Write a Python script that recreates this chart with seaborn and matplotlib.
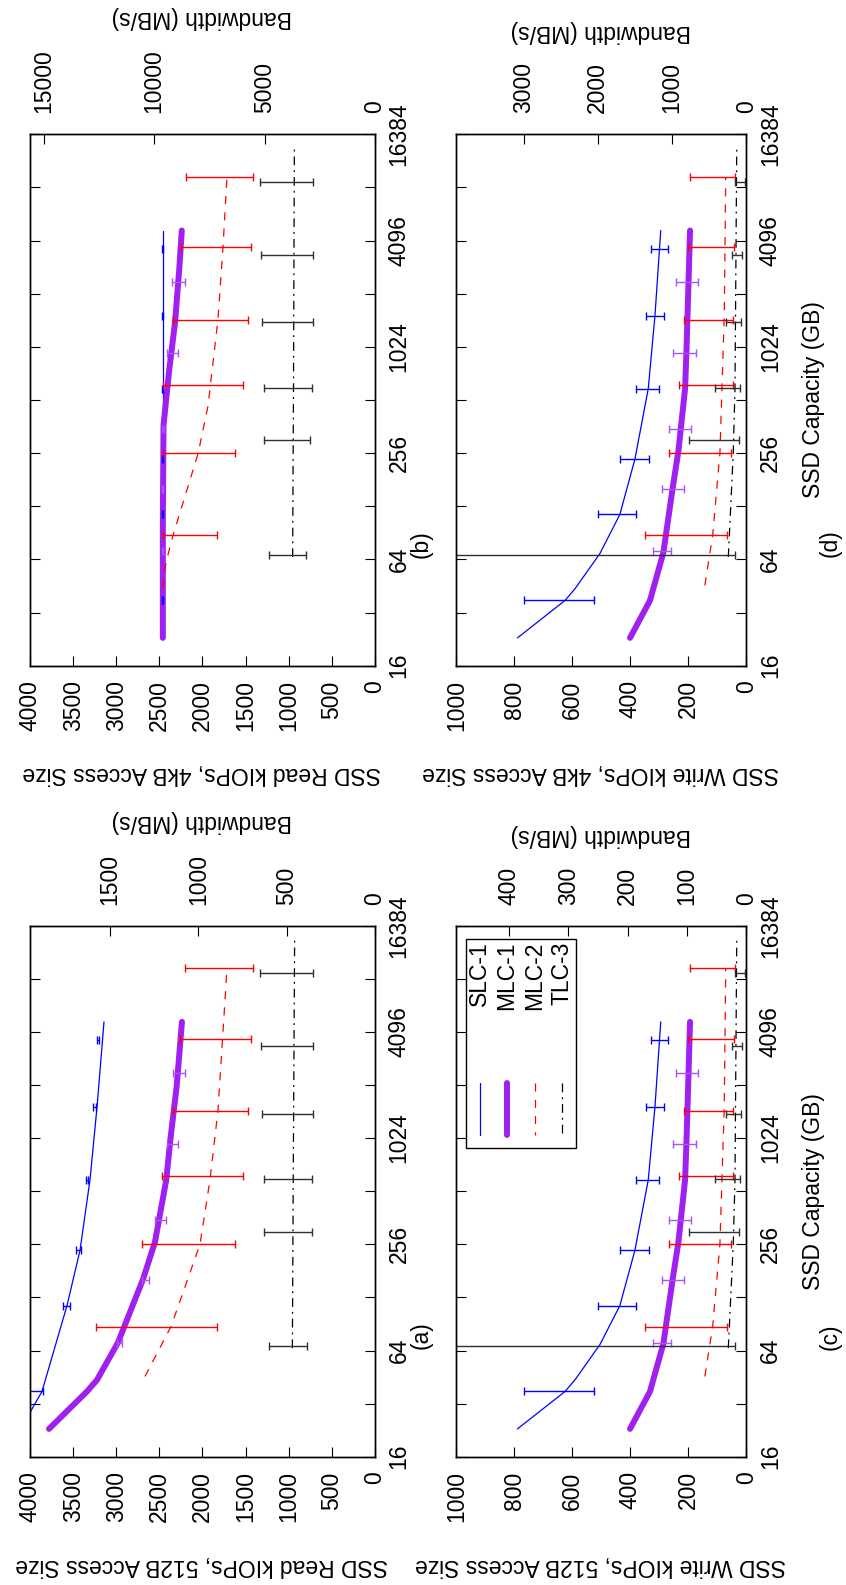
import numpy as np
import pandas as pd
import matplotlib
matplotlib.use("Agg")
import matplotlib.pyplot as plt
import seaborn as sns
from matplotlib.lines import Line2D
from matplotlib.patches import Rectangle
from matplotlib.ticker import NullLocator

# ---------------- data ----------------
SERIES = ["SLC-1", "MLC-1", "MLC-2", "TLC-3"]
CAP_TICKS = [16, 32, 64, 128, 256, 512, 1024, 2048, 4096, 8192, 16384]
CAP_LABELS = ["16", "", "64", "", "256", "", "1024", "", "4096", "", "16384"]

READ_KTICKS = [0, 500, 1000, 1500, 2000, 2500, 3000, 3500, 4000]
WRITE_KTICKS = [0, 200, 400, 600, 800, 1000]
BW_TICKS_A = [0, 500, 1000, 1500]
BW_TICKS_B = [0, 5000, 10000, 15000]
BW_TICKS_C = [0, 100, 200, 300, 400]
BW_TICKS_D = [0, 1000, 2000, 3000]

# error-bar capacities (GB), shared by all panels
SLC1_BAR_CAP = [37.5, 115, 237, 591, 1536, 3690]
MLC1_BAR_CAP = [71, 160, 350, 946, 2380]
MLC2_BAR_CAP = [87.5, 256, 623, 1450, 3750, 9380]
TLC3_BAR_CAP = [68, 302, 600, 1410, 3390, 8830]

# (a) read kIOPs, 512B
A_SLC1_CAP = [23, 28.5, 37.5, 115, 237, 595, 1536, 4670]
A_SLC1_K = [4150, 4000, 3861, 3571, 3420, 3304, 3223, 3142]
A_MLC1_CAP = [23, 37.5, 43.6, 71, 162, 264, 595, 1010, 2000, 4670]
A_MLC1_K = [3780, 3339, 3223, 2980, 2690, 2551, 2420, 2372, 2300, 2238]
A_MLC2_CAP = [45.6, 87.5, 256, 595, 1475, 9380]
A_MLC2_K = [2667, 2365, 2029, 1913, 1820, 1716]
A_TLC3_CAP = [66, 600, 13600]
A_TLC3_K = [958, 948, 932]
A_SLC1_LO = [3849, 3536, 3409, 3325, 3238, 3204]
A_SLC1_HI = [4050, 3617, 3467, 3350, 3266, 3227]
A_MLC1_LO = [2933, 2620, 2423, 2284, 2203]
A_MLC1_HI = [2991, 2701, 2551, 2412, 2342]
A_MLC2_LO = [1832, 1623, 1530, 1472, 1438, 1414]
A_MLC2_HI = [3235, 2701, 2470, 2342, 2261, 2203]
A_TLC3_LO = [788, 730, 730, 719, 719, 719]
A_TLC3_HI = [1229, 1287, 1287, 1310, 1322, 1333]

# (b) read kIOPs, 4kB
B_SLC1_CAP = [23, 256, 4670]
B_SLC1_K = [2460, 2460, 2460]
B_MLC1_CAP = [23, 100, 368, 758, 1400, 2800, 4670]
B_MLC1_K = [2460, 2460, 2452, 2386, 2319, 2270, 2240]
B_MLC2_CAP = [44.4, 61.7, 87.5, 256, 474, 1475, 3790, 9380]
B_MLC2_K = [2460, 2423, 2342, 2050, 1936, 1820, 1762, 1716]
B_TLC3_CAP = [66, 600, 13600]
B_TLC3_K = [955, 945, 935]
B_SLC1_LO = [2455, 2455, 2455, 2455, 2455, 2455]
B_SLC1_HI = [2465, 2465, 2465, 2465, 2465, 2465]
B_MLC1_LO = [2455, 2455, 2450, 2281, 2203]
B_MLC1_HI = [2465, 2465, 2470, 2416, 2348]
B_MLC2_LO = [1832, 1623, 1530, 1472, 1438, 1414]
B_MLC2_HI = [2462, 2462, 2462, 2342, 2249, 2195]
B_TLC3_LO = [800, 757, 730, 719, 719, 719]
B_TLC3_HI = [1229, 1287, 1287, 1310, 1322, 1333]

# (c) / (d) write kIOPs (same values for 512B and 4kB)
W_SLC1_CAP = [23, 37.5, 43.6, 69, 115, 237, 595, 1536, 4670]
W_SLC1_K = [789, 625, 591, 505, 436, 384, 338, 315, 295]
W_MLC1_CAP = [23, 37.5, 70, 162, 264, 595, 1010, 4670]
W_MLC1_K = [401, 332, 286, 254, 234, 211, 206, 194]
W_MLC2_CAP = [45.6, 87.5, 256, 1536, 9380]
W_MLC2_K = [143, 116, 91, 76, 71]
W_TLC3_CAP = [66, 256, 595, 13600]
W_TLC3_K = [62, 45, 39, 33]
W_SLC1_LO = [525, 382, 336, 301, 283, 269]
W_SLC1_HI = [766, 513, 436, 382, 347, 329]
W_MLC1_LO = [258, 215, 192, 174, 166]
W_MLC1_HI = [323, 289, 267, 252, 241]
W_MLC2_LO = [68, 54, 47, 45, 43, 39]
W_MLC2_HI = [349, 267, 232, 214, 200, 194]
W_TLC3_LO = [39, 24, 21, 18, 15, 4]
W_TLC3_HI = [1150, 197, 107, 69, 48, 38]

# ---------------- style ----------------
FS = 16.5
sns.set_theme(style="white")
plt.rcParams["font.family"] = ["Liberation Sans", "DejaVu Sans"]
plt.rcParams.update({
    "font.size": FS,
    "xtick.labelsize": FS,
    "ytick.labelsize": FS,
    "axes.labelsize": FS,
    "axes.linewidth": 1.0,
    "axes.edgecolor": "black",
    "xtick.color": "black",
    "ytick.color": "black",
    "text.color": "black",
})

LINE_STYLE = {
    "SLC-1": dict(color="#0000ff", linewidth=0.9, linestyle="-"),
    "MLC-1": dict(color="#a020f0", linewidth=4.3, linestyle="-"),
    "MLC-2": dict(color="#ff0000", linewidth=0.9, linestyle=(0, (6.5, 6.5))),
    "TLC-3": dict(color="#000000", linewidth=0.9, linestyle=(0, (7, 4, 1.5, 4))),
}
BAR_COLOR = {"SLC-1": "#0000ff", "MLC-1": "#a855f7", "MLC-2": "#ff0000", "TLC-3": "#303030"}

W, H = 846, 1585
fig = plt.figure(figsize=(W / 100, H / 100), dpi=100)


def px_axes(l, t, r, b):
    return fig.add_axes([l / W, 1 - b / H, (r - l) / W, (b - t) / H])


def ftext(x, y, s, rot, **kw):
    kw.setdefault("ha", "center")
    kw.setdefault("va", "center")
    fig.text(x / W, 1 - y / H, s, rotation=rot, fontsize=FS, **kw)


def draw_panel(rect, lines, bars, kmax, kticks, block_bytes, bw_ticks):
    ax = px_axes(*rect)
    ax.set_yscale("log", base=2)
    for name in SERIES:
        cap, k = lines[name]
        df = pd.DataFrame({"kiops": k, "cap": cap})
        sns.lineplot(data=df, x="kiops", y="cap", orient="y", ax=ax,
                     legend=False, **LINE_STYLE[name])
    bar_caps = {"SLC-1": SLC1_BAR_CAP, "MLC-1": MLC1_BAR_CAP,
                "MLC-2": MLC2_BAR_CAP, "TLC-3": TLC3_BAR_CAP}
    for name in SERIES:
        lo, hi = np.array(bars[name][0], float), np.array(bars[name][1], float)
        mid = (lo + hi) / 2
        ax.errorbar(mid, bar_caps[name], xerr=[mid - lo, hi - mid], fmt="none",
                    ecolor=BAR_COLOR[name], elinewidth=1.0, capsize=2.9,
                    capthick=1.0, zorder=4)
    ax.set_xlim(kmax, 0)
    ax.set_ylim(16, 16384)
    ax.set_xlabel("")
    ax.set_ylabel("")
    ax.set_xticks(kticks)
    ax.set_xticklabels([str(t) for t in kticks])
    ax.xaxis.set_minor_locator(NullLocator())
    ax.set_yticks(CAP_TICKS)
    ax.set_yticklabels(CAP_LABELS)
    ax.yaxis.set_minor_locator(NullLocator())

    ax2 = ax.twiny()
    bw_max = kmax * 1000 * block_bytes / 2 ** 20
    ax2.set_xlim(bw_max, 0)
    ax2.set_xticks(bw_ticks)
    ax2.set_xticklabels([str(t) for t in bw_ticks])
    ax2.xaxis.set_minor_locator(NullLocator())
    ax2.tick_params(axis="x", direction="in", length=7.2, width=0.8, top=True,
                    bottom=False, labeltop=True, labelbottom=False,
                    labelrotation=90, pad=15, labelsize=FS)

    ax.tick_params(axis="x", direction="in", length=7.2, width=0.8, bottom=True,
                   top=False, labelbottom=True, labeltop=False,
                   labelrotation=90, pad=10.5, labelsize=FS)
    ax.tick_params(axis="y", direction="in", length=7.2, width=0.8, left=True,
                   right=True, labelleft=False, labelright=True, pad=9,
                   labelsize=FS)
    for tick in ax.yaxis.get_major_ticks():
        tick.label2.set_rotation(90)
        tick.label2.set_va("center")
        tick.label2.set_ha("left")
    for sp in ax.spines.values():
        sp.set_color("black")
        sp.set_linewidth(1.0)
    return ax


RECT_A = (30, 925.7, 375, 1456.7)
RECT_B = (30, 134.3, 375, 665.7)
RECT_C = (456.3, 925.7, 746.3, 1456.7)
RECT_D = (456.3, 134.3, 746.3, 665.7)

lines_a = {"SLC-1": (A_SLC1_CAP, A_SLC1_K), "MLC-1": (A_MLC1_CAP, A_MLC1_K),
           "MLC-2": (A_MLC2_CAP, A_MLC2_K), "TLC-3": (A_TLC3_CAP, A_TLC3_K)}
bars_a = {"SLC-1": (A_SLC1_LO, A_SLC1_HI), "MLC-1": (A_MLC1_LO, A_MLC1_HI),
          "MLC-2": (A_MLC2_LO, A_MLC2_HI), "TLC-3": (A_TLC3_LO, A_TLC3_HI)}
lines_b = {"SLC-1": (B_SLC1_CAP, B_SLC1_K), "MLC-1": (B_MLC1_CAP, B_MLC1_K),
           "MLC-2": (B_MLC2_CAP, B_MLC2_K), "TLC-3": (B_TLC3_CAP, B_TLC3_K)}
bars_b = {"SLC-1": (B_SLC1_LO, B_SLC1_HI), "MLC-1": (B_MLC1_LO, B_MLC1_HI),
          "MLC-2": (B_MLC2_LO, B_MLC2_HI), "TLC-3": (B_TLC3_LO, B_TLC3_HI)}
lines_w = {"SLC-1": (W_SLC1_CAP, W_SLC1_K), "MLC-1": (W_MLC1_CAP, W_MLC1_K),
           "MLC-2": (W_MLC2_CAP, W_MLC2_K), "TLC-3": (W_TLC3_CAP, W_TLC3_K)}
bars_w = {"SLC-1": (W_SLC1_LO, W_SLC1_HI), "MLC-1": (W_MLC1_LO, W_MLC1_HI),
          "MLC-2": (W_MLC2_LO, W_MLC2_HI), "TLC-3": (W_TLC3_LO, W_TLC3_HI)}

draw_panel(RECT_A, lines_a, bars_a, 4000, READ_KTICKS, 512, BW_TICKS_A)
draw_panel(RECT_B, lines_b, bars_b, 4000, READ_KTICKS, 4096, BW_TICKS_B)
draw_panel(RECT_C, lines_w, bars_w, 1000, WRITE_KTICKS, 512, BW_TICKS_C)
draw_panel(RECT_D, lines_w, bars_w, 1000, WRITE_KTICKS, 4096, BW_TICKS_D)

# axis titles (rotated figure)
ftext(202, 1565, "SSD Read kIOPs, 512B Access Size", 180)
ftext(202, 773, "SSD Read kIOPs, 4kB Access Size", 180)
ftext(601, 1565, "SSD Write kIOPs, 512B Access Size", 180)
ftext(601, 773, "SSD Write kIOPs, 4kB Access Size", 180)
ftext(202, 822, "Bandwidth (MB/s)", 180)
ftext(202, 18, "Bandwidth (MB/s)", 180)
ftext(600.5, 835, "Bandwidth (MB/s)", 180)
ftext(600.5, 32, "Bandwidth (MB/s)", 180)
ftext(813, 1192, "SSD Capacity (GB)", 90)
ftext(813, 400, "SSD Capacity (GB)", 90)
ftext(421, 1335, "(a)", 90)
ftext(421, 544, "(b)", 90)
ftext(830, 1337, "(c)", 90)
ftext(830, 543, "(d)", 90)

# legend (rotated) in panel (c)
fig.add_artist(Rectangle((466.3 / W, 1 - 1147.7 / H), 110 / W, (1147.7 - 939.3) / H,
                         transform=fig.transFigure, fill=False,
                         edgecolor="black", linewidth=1.0, zorder=5))
for xcol, name in zip([479.5, 507, 534.5, 562], SERIES):
    ftext(xcol, 941.5, name, 90, va="top")
    st = LINE_STYLE[name]
    fig.add_artist(Line2D([xcol / W, xcol / W], [1 - 1082.7 / H, 1 - 1135 / H],
                          transform=fig.transFigure, color=st["color"],
                          linewidth=st["linewidth"], linestyle=st["linestyle"],
                          zorder=5))

fig.savefig("out.png", dpi=100)
